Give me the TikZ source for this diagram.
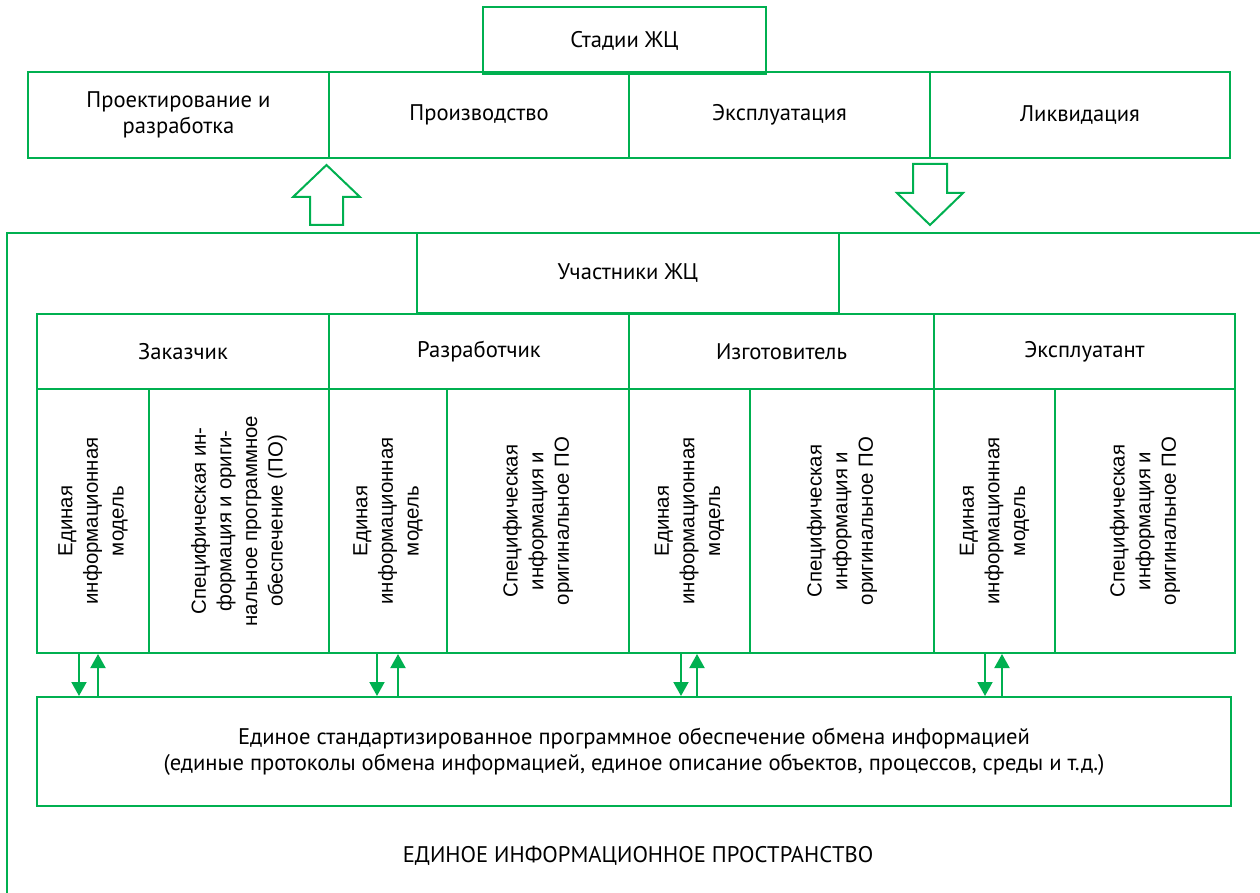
\documentclass[tikz,border=0pt]{standalone}
\usepackage{fontspec}
\setmainfont{PT Sans}
\newfontfamily\vertfont{Liberation Sans}
\usetikzlibrary{positioning,arrows.meta,calc}
\definecolor{jcgreen}{HTML}{00B050}
\tikzset{
  cell/.style 2 args={draw=jcgreen,line width=1pt,inner sep=2pt,align=center,
    minimum width=#1*0.5pt,minimum height=#2*0.5pt},
  vtext/.style={rotate=90,align=center,inner sep=0pt,
    font=\vertfont\fontsize{10.2pt}{12.8pt}\selectfont},
  blockarrow/.style={draw=jcgreen,line width=1pt,line join=miter},
  dataarrow/.style={draw=jcgreen,line width=1pt,
    -{Triangle[length=7pt,width=7.5pt]}}
}

\begin{document}
\begin{tikzpicture}[x=0.5pt,y=-0.5pt,font=\fontsize{11.3pt}{12.8pt}\selectfont]
  \useasboundingbox (0,0) rectangle (1260,893);
  % стадии жизненного цикла
  \node[cell={301}{86}] (design) at (178.5,115) {Проектирование и\\разработка};
  \node[cell={300}{86}] (prod) at (479,115) {Производство};
  \node[cell={301}{86}] (oper) at (779.5,115) {Эксплуатация};
  \node[cell={300}{86}] (liq) at (1080,115) {Ликвидация};
  \node[cell={283}{67}] (stages) at (624.5,40.5) {Стадии ЖЦ};
  \draw[blockarrow] (310,225) -- (310,197) -- (293,197) -- (326.5,165)
    -- (360,197) -- (343,197) -- (343,225) -- cycle;
  \draw[blockarrow] (913,164) -- (947,164) -- (947,193) -- (963,193)
    -- (930,225) -- (897,193) -- (913,193) -- cycle;
  % единое информационное пространство
  \draw[jcgreen,line width=1pt] (7,893) -- (7,233) -- (1260,233);
  \node[cell={422}{80}] (members) at (628,273) {Участники ЖЦ};
  \node[cell={292}{75}] (customer) at (183,351.5) {Заказчик};
  \node[cell={300}{75}] (developer) at (479,351.5) {Разработчик};
  \node[cell={305}{75}] (maker) at (781.5,351.5) {Изготовитель};
  \node[cell={301}{75}] (operator) at (1084.5,351.5) {Эксплуатант};
  \node[cell={112}{264}] (cusM) at (93,521) {};
  \node[cell={180}{264}] (cusS) at (239,521) {};
  \node[cell={118}{264}] (devM) at (388,521) {};
  \node[cell={182}{264}] (devS) at (538,521) {};
  \node[cell={121}{264}] (makM) at (689.5,521) {};
  \node[cell={184}{264}] (makS) at (842,521) {};
  \node[cell={121}{264}] (opM) at (994.5,521) {};
  \node[cell={180}{264}] (opS) at (1145,521) {};
  \node[vtext] (cusMt) at (cusM) {Единая\\информационная\\модель};
  \node[vtext] (cusSt) at (cusS)
    {Специфическая ин-\\формация и ориги-\\нальное программное\\обеспечение (ПО)};
  \node[vtext] (devMt) at (devM) {Единая\\информационная\\модель};
  \node[vtext] (devSt) at (devS) {Специфическая\\информация и\\оригинальное ПО};
  \node[vtext] (makMt) at (makM) {Единая\\информационная\\модель};
  \node[vtext] (makSt) at (makS) {Специфическая\\информация и\\оригинальное ПО};
  \node[vtext] (opMt) at (opM) {Единая\\информационная\\модель};
  \node[vtext] (opSt) at (opS) {Специфическая\\информация и\\оригинальное ПО};
  \node[cell={1194}{109}] (bus) at (634,751.5)
    {Единое стандартизированное программное обеспечение обмена информацией\\
     (единые протоколы обмена информацией, единое описание объектов, процессов, среды и т.д.)};
  % обмен данными
  \draw[dataarrow] ($(cusM.south)+(-14,0)$) -- ($(cusM.south |- bus.north)+(-14,0)$);
  \draw[dataarrow] ($(cusM.south |- bus.north)+(5,0)$) -- ($(cusM.south)+(5,0)$);
  \draw[dataarrow] ($(devM.south)+(-11,0)$) -- ($(devM.south |- bus.north)+(-11,0)$);
  \draw[dataarrow] ($(devM.south |- bus.north)+(10,0)$) -- ($(devM.south)+(10,0)$);
  \draw[dataarrow] ($(makM.south)+(-8.5,0)$) -- ($(makM.south |- bus.north)+(-8.5,0)$);
  \draw[dataarrow] ($(makM.south |- bus.north)+(7.5,0)$) -- ($(makM.south)+(7.5,0)$);
  \draw[dataarrow] ($(opM.south)+(-9.5,0)$) -- ($(opM.south |- bus.north)+(-9.5,0)$);
  \draw[dataarrow] ($(opM.south |- bus.north)+(7.5,0)$) -- ($(opM.south)+(7.5,0)$);
  \node (space) at (638,856) {ЕДИНОЕ ИНФОРМАЦИОННОЕ ПРОСТРАНСТВО};
\end{tikzpicture}
\end{document}
